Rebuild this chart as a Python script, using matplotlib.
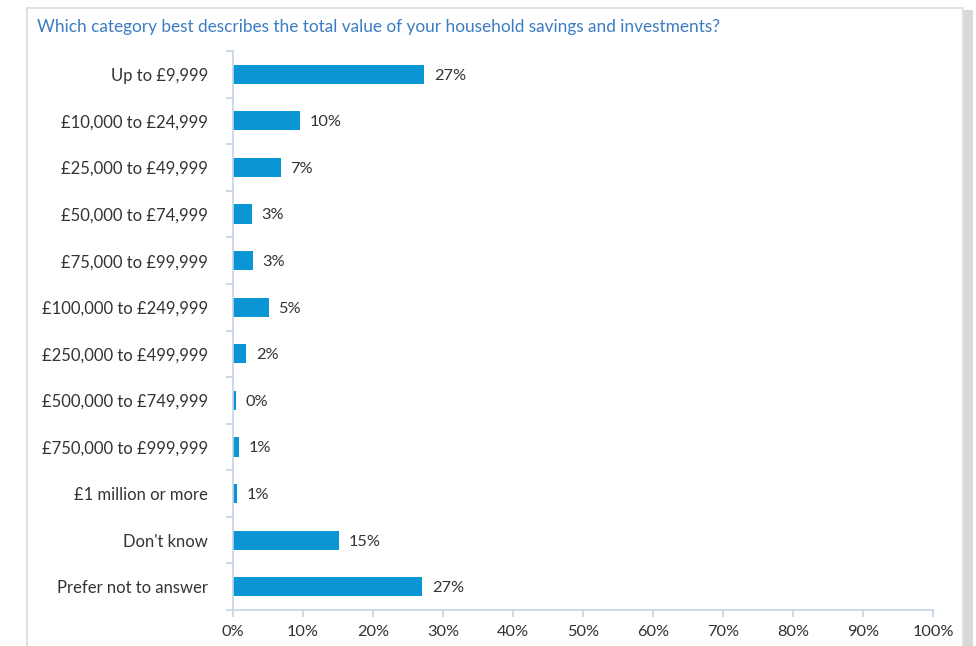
import matplotlib.pyplot as plt
from matplotlib.patches import Rectangle
import numpy as np

categories = ["Up to £9,999", "£10,000 to £24,999", "£25,000 to £49,999",
              "£50,000 to £74,999", "£75,000 to £99,999", "£100,000 to £249,999",
              "£250,000 to £499,999", "£500,000 to £749,999", "£750,000 to £999,999",
              "£1 million or more", "Don't know", "Prefer not to answer"]
shares = [27.3, 9.5, 6.8, 2.7, 2.8, 5.1, 1.9, 0.4, 0.8, 0.6, 15.2, 27.0]
xticks = list(range(0, 101, 10))

title = "Which category best describes the total value of your household savings and investments?"
bar_col = "#0a96d4"
axis_col = "#c5d3e3"
text_col = "#333333"

plt.rcParams['font.family'] = ['Lato', 'DejaVu Sans']

fig = plt.figure(figsize=(9.76, 6.46), dpi=100)

# panel frame with a soft shadow on the right
fig.patches.append(Rectangle((964/976, 0), 9/976, 1 - 10/646, transform=fig.transFigure,
                             facecolor="#d9d9d9", edgecolor="none", zorder=-2))
fig.patches.append(Rectangle((27/976, -0.01), 936/976, 1.01 - 8/646, transform=fig.transFigure,
                             facecolor="white", edgecolor="#dcdcdc", linewidth=1.2, zorder=-1))

fig.text(37/976, 1 - 27/646, title, color="#3b7cc3", fontsize=12.4, va="center", ha="left")

ax = fig.add_axes([233/976, 1 - 610/646, 700/976, (610 - 51)/646])
ax.set_facecolor("none")
y = np.arange(len(categories))
ax.barh(y, shares, height=0.41, color=bar_col)
for yi, v in zip(y, shares):
    ax.text(v + 1.4, yi + 0.03, f"{v:.0f}%", va="center", ha="left", fontsize=11.8, color=text_col)

ax.set_xlim(0, 100)
ax.set_ylim(len(categories) - 0.5, -0.5)
ax.set_xticks(xticks)
ax.set_xticklabels([f"{t}%" for t in xticks], fontsize=11.8, color=text_col)
ax.set_yticks(y)
ax.set_yticklabels(categories, fontsize=12, color=text_col)
ax.set_yticks(np.arange(-0.5, len(categories)), minor=True)
ax.tick_params(axis="y", which="major", length=0, pad=18)
ax.tick_params(axis="y", which="minor", length=5, color=axis_col, width=1.2)
ax.tick_params(axis="x", length=5, color=axis_col, width=1.2, pad=6)

for s in ["top", "right"]:
    ax.spines[s].set_visible(False)
for s in ["left", "bottom"]:
    ax.spines[s].set_color(axis_col)
    ax.spines[s].set_linewidth(1.2)

fig.savefig("out.png", dpi=100)
